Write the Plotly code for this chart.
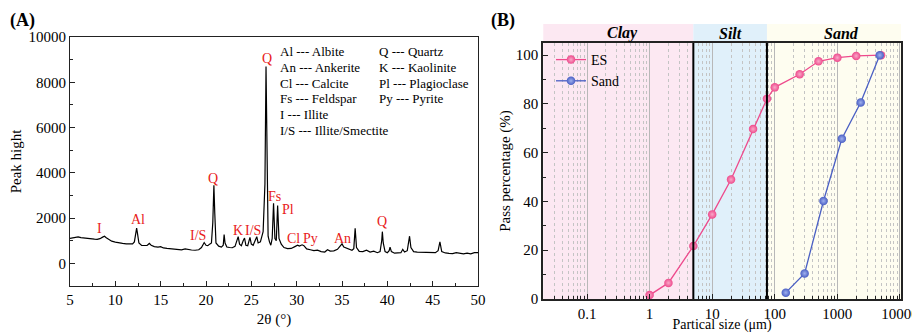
import numpy as np
import plotly.graph_objects as go

# ---------------- Panel A data: XRD pattern ----------------
two_theta = [5.0, 5.3, 5.6, 5.9, 6.2, 6.5, 6.8, 7.1, 7.4, 7.7, 8.0, 8.3, 8.6, 8.8, 9.0, 9.3, 9.6,
             10.0, 10.4, 10.8, 11.2, 11.6, 11.9, 12.1, 12.25, 12.35, 12.45, 12.6, 12.9, 13.2, 13.5,
             13.75, 13.95, 14.3, 14.7, 15.0, 15.3, 15.7, 16.1, 16.5, 16.9, 17.3, 17.7, 18.0, 18.4,
             18.8, 19.2, 19.5, 19.8, 20.0, 20.2, 20.4, 20.6, 20.75, 20.87, 20.97, 21.1, 21.4, 21.7,
             21.9, 22.0, 22.1, 22.3, 22.6, 22.9, 23.2, 23.45, 23.55, 23.7, 23.9, 24.1, 24.25, 24.4,
             24.6, 24.85, 25.0, 25.2, 25.45, 25.6, 25.75, 26.0, 26.3, 26.5, 26.62, 26.72, 26.85,
             27.0, 27.15, 27.3, 27.45, 27.6, 27.75, 27.9, 28.05, 28.3, 28.6, 29.0, 29.4, 29.8, 30.1,
             30.3, 30.6, 30.8, 31.1, 31.5, 31.9, 32.3, 32.7, 33.1, 33.4, 33.7, 34.1, 34.5, 34.8,
             35.0, 35.2, 35.5, 35.8, 36.1, 36.3, 36.45, 36.6, 36.9, 37.3, 37.7, 38.1, 38.5, 38.9,
             39.2, 39.38, 39.45, 39.55, 39.75, 40.0, 40.2, 40.3, 40.45, 40.8, 41.2, 41.5, 41.7,
             41.9, 42.2, 42.45, 42.6, 42.9, 43.3, 43.7, 44.1, 44.5, 44.9, 45.3, 45.6, 45.8, 46.0,
             46.4, 46.8, 47.2, 47.6, 48.0, 48.4, 48.8, 49.2, 49.6, 50.0]
peak_height = [1100, 1120, 1150, 1170, 1140, 1120, 1100, 1090, 1080, 1070, 1060, 1090, 1160, 1200,
               1130, 1040, 980, 940, 900, 880, 860, 850, 860, 950, 1350, 1560, 1300, 900, 790, 780,
               790, 880, 800, 740, 720, 740, 680, 660, 650, 620, 610, 600, 640, 610, 590, 580, 600,
               700, 920, 800, 780, 850, 900, 1800, 3450, 2200, 900, 760, 720, 800, 1270, 900, 720,
               700, 690, 750, 1000, 1180, 850, 780, 1000, 1120, 800, 780, 1150, 850, 800, 1100, 1180,
               900, 950, 1400, 3500, 8700, 4000, 1200, 950, 800, 1100, 2650, 1100, 1000, 2550, 1100,
               850, 700, 650, 660, 740, 800, 760, 820, 780, 640, 600, 560, 580, 520, 500, 600, 540,
               550, 620, 780, 860, 720, 680, 640, 580, 650, 1550, 700, 530, 520, 580, 500, 540, 470,
               520, 1000, 1400, 900, 520, 470, 560, 720, 520, 450, 460, 470, 620, 500, 560, 1200, 700,
               520, 500, 490, 470, 460, 450, 470, 560, 950, 520, 460, 440, 430, 470, 460, 420, 450,
               420, 470, 470]

peak_labels = ["I", "Al", "I/S", "Q", "K", "I/S", "Q", "Fs", "Pl", "Cl", "Py", "An", "Q"]
peak_label_x = [8.3, 12.5, 19.15, 20.8, 23.5, 25.15, 26.7, 27.6, 29.0, 29.7, 31.5, 35.1, 39.4]
peak_label_y = [1560, 1940, 1250, 3750, 1440, 1440, 9050, 2970, 2385, 1100, 1100, 1100, 1840]

legend_col1 = ["Al --- Albite", "An --- Ankerite", "Cl --- Calcite", "Fs --- Feldspar",
               "I --- Illite", "I/S --- Illite/Smectite"]
legend_col2 = ["Q --- Quartz", "K --- Kaolinite", "Pl --- Plagioclase", "Py --- Pyrite"]

# ---------------- Panel B data: grading curves ----------------
es_size = [1, 2, 5, 10, 20, 45, 75, 100, 250, 500, 1000, 2000, 5000]
es_pass = [1.6, 6.6, 21.7, 34.7, 49.0, 69.7, 82.1, 86.8, 92.2, 97.5, 99.0, 99.7, 100]
sand_size = [150, 300, 600, 1180, 2360, 4750]
sand_pass = [2.6, 10.5, 40.2, 65.7, 80.6, 100]

zones = ["Clay", "Silt", "Sand"]
zone_bounds = [0.02, 5, 75, 10500]
zone_colors = ["#fce8f2", "#e0f0fa", "#fefdf0"]
zone_label_logx = [-0.44, 1.29, 3.07]

FONT = "Liberation Serif"
RED = "#e8201a"
PINK = "#ee4a8c"
BLUE = "#4a5fc4"

fig = go.Figure()

fig.add_trace(go.Scatter(x=two_theta, y=peak_height, mode="lines",
                         line=dict(color="black", width=1.2), showlegend=False,
                         xaxis="x", yaxis="y"))

fig.add_trace(go.Scatter(x=es_size, y=es_pass, mode="lines+markers", name="ES",
                         line=dict(color=PINK, width=1.3),
                         marker=dict(color=PINK, size=8.5, line=dict(width=0),
                                     gradient=dict(type="radial", color="#f9a8c8")),
                         xaxis="x2", yaxis="y2"))
fig.add_trace(go.Scatter(x=sand_size, y=sand_pass, mode="lines+markers", name="Sand",
                         line=dict(color=BLUE, width=1.3),
                         marker=dict(color=BLUE, size=8.5, line=dict(width=0),
                                     gradient=dict(type="radial", color="#9fb0ee")),
                         xaxis="x2", yaxis="y2"))

# page body has an 8px margin: figure is sized to fit the 920x333 window
OFF = 8
W, H = 912, 325


def px_x(sx):
    return (sx - OFF) / W


def px_y(sy):
    return (H - (sy - OFF)) / H


axA_x = [px_x(70), px_x(478)]
axA_y = [px_y(286), px_y(37)]
axB_x = [px_x(543), px_x(901)]
axB_y = [px_y(299), px_y(43)]

tickfont = dict(family=FONT, size=15, color="black")
titlefont = dict(family=FONT, size=15, color="black")

minor_log = [m * 10.0 ** e for e in range(-2, 4) for m in range(2, 10)]

fig.update_layout(
    width=W, height=H,
    margin=dict(l=0, r=0, t=0, b=0, autoexpand=False),
    paper_bgcolor="white", plot_bgcolor="rgba(0,0,0,0)",
    font=dict(family=FONT, color="black"),
    xaxis=dict(domain=axA_x, range=[5, 50], dtick=5, tick0=5, ticks="inside", ticklen=5,
               tickwidth=1, tickcolor="#222", showline=True, linecolor="#222", linewidth=1.2,
               mirror=True, showgrid=False, zeroline=False, tickfont=tickfont, automargin=False,
               minor=dict(ticks="inside", dtick=2.5, ticklen=3, tickcolor="#222"),
               title=dict(text="2θ (°)", font=titlefont, standoff=6), anchor="y"),
    yaxis=dict(domain=axA_y, range=[-1000, 10000], dtick=2000, tick0=0, ticks="inside",
               ticklen=5, tickcolor="#222", showline=True, linecolor="#222", linewidth=1.2,
               mirror=True, showgrid=False, zeroline=False, tickfont=tickfont, tickformat="d",
               automargin=False,
               minor=dict(ticks="inside", dtick=1000, ticklen=3, tickcolor="#222"),
               title=dict(text="Peak hight", font=titlefont, standoff=4), anchor="x"),
    xaxis2=dict(domain=axB_x, type="log", range=[np.log10(0.0198), np.log10(10400)],
                tickvals=[0.1, 1, 10, 100, 1000, 10000],
                ticktext=["0.1", "1", "10", "100", "1000", "10000"],
                ticks="inside", ticklen=5, tickcolor="#222", showline=True, linecolor="#222",
                linewidth=1.6, mirror=True, showgrid=True, gridcolor="#b8b8b8", gridwidth=1,
                zeroline=False, tickfont=tickfont, automargin=False,
                minor=dict(tickvals=minor_log, ticks="inside", ticklen=3, tickcolor="#222",
                           showgrid=True, gridcolor="#c4c4c4", griddash="dot", gridwidth=1),
                title=dict(text="Partical size (μm)", font=dict(family=FONT, size=14, color="black"),
                           standoff=9), anchor="y2"),
    yaxis2=dict(domain=axB_y, range=[0, 105], dtick=20, tick0=0, ticks="inside", ticklen=5,
                tickcolor="#222", showline=True, linecolor="#222", linewidth=1.6, mirror=True,
                showgrid=False, zeroline=False, tickfont=tickfont, automargin=False,
                minor=dict(ticks="inside", dtick=10, ticklen=3, tickcolor="#222"),
                title=dict(text="Pass percentage (%)", font=titlefont, standoff=1), anchor="x2"),
    legend=dict(x=px_x(551), y=px_y(44), xanchor="left", yanchor="top",
                bgcolor="rgba(0,0,0,0)", font=dict(family=FONT, size=14, color="black"),
                itemwidth=30, tracegroupgap=0),
    showlegend=True,
)

shapes = []
annotations = []
header_top = 1 + 19 / (299 - 43)
for i, z in enumerate(zones):
    x0, x1 = zone_bounds[i], zone_bounds[i + 1]
    shapes.append(dict(type="rect", xref="x2", yref="y2 domain", x0=x0, x1=x1, y0=0,
                       y1=header_top, fillcolor=zone_colors[i], line=dict(width=0),
                       layer="below"))
    annotations.append(dict(text=f"<b><i>{z}</i></b>", xref="x2", yref="y2 domain",
                            x=zone_label_logx[i], y=(1 + header_top) / 2, showarrow=False,
                            font=dict(family=FONT, size=16, color="black"),
                            xanchor="center", yanchor="middle"))
for b in zone_bounds[1:3]:
    shapes.append(dict(type="line", xref="x2", yref="y2 domain", x0=b, x1=b, y0=0, y1=1,
                       line=dict(color="black", width=2), layer="above"))

for t, xv, yv in zip(peak_labels, peak_label_x, peak_label_y):
    annotations.append(dict(text=t, x=xv, y=yv, xref="x", yref="y", showarrow=False,
                            font=dict(family=FONT, size=14, color=RED),
                            xanchor="center", yanchor="middle"))

line_step = 693
for i, t in enumerate(legend_col1):
    annotations.append(dict(text=t, x=27.97, y=9342 - i * line_step, xref="x", yref="y",
                            showarrow=False, font=dict(family=FONT, size=13, color="black"),
                            xanchor="left", yanchor="middle"))
for i, t in enumerate(legend_col2):
    annotations.append(dict(text=t, x=38.83, y=9342 - i * line_step, xref="x", yref="y",
                            showarrow=False, font=dict(family=FONT, size=13, color="black"),
                            xanchor="left", yanchor="middle"))

annotations.append(dict(text="<b>(A)</b>", x=0, y=1, xref="paper", yref="paper",
                        showarrow=False, xanchor="left", yanchor="top",
                        font=dict(family=FONT, size=18, color="black")))
annotations.append(dict(text="<b>(B)</b>", x=px_x(489), y=1, xref="paper", yref="paper",
                        showarrow=False, xanchor="left", yanchor="top",
                        font=dict(family=FONT, size=18, color="black")))

fig.update_layout(shapes=shapes, annotations=annotations)
fig.write_html("out.html")
